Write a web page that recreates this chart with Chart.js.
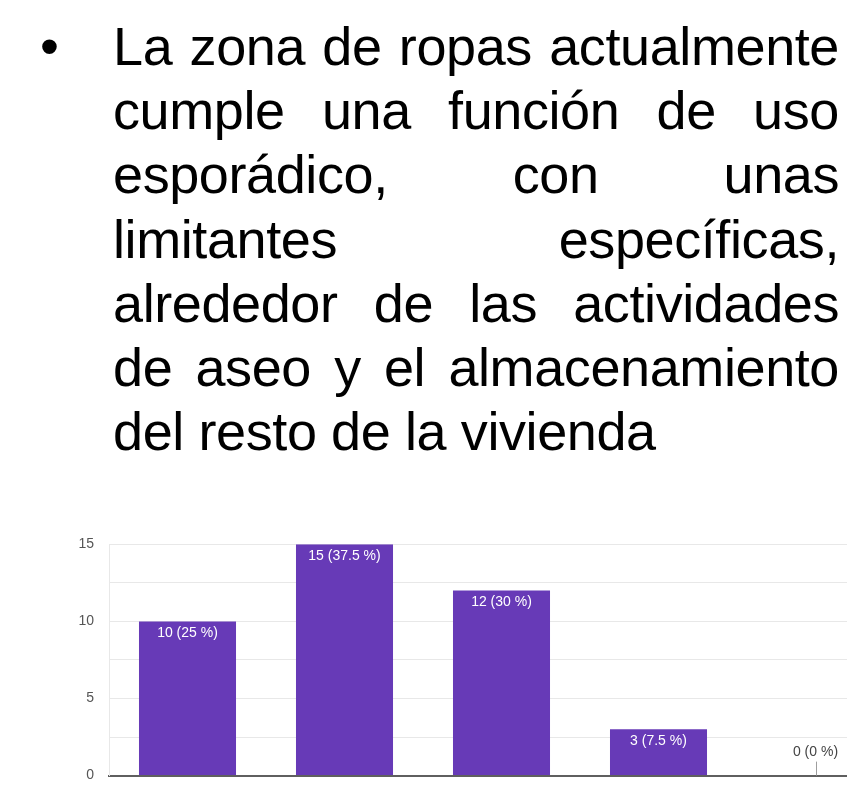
<!DOCTYPE html>
<html>
<head>
<meta charset="utf-8">
<script src="https://cdn.jsdelivr.net/npm/chart.js@4/dist/chart.umd.min.js"></script>
<style>
    html, body {
        margin: 0;
        padding: 0;
        width: 847px;
        height: 788px;
        overflow: hidden;
        background: #ffffff;
    }
    .texto {
        position: absolute;
        left: 113px;
        top: 14px;
        width: 726px;
        font-family: "Liberation Sans", Arial, sans-serif;
        font-size: 54px;
        line-height: 64.2px;
        letter-spacing: -0.4px;
        color: #000;
    }
    .texto .linea {
        text-align: justify;
        text-align-last: justify;
        white-space: nowrap;
    }
    .texto .linea.ultima {
        text-align-last: left;
    }
    .vineta {
        position: absolute;
        left: 40px;
        top: 14px;
        font-family: "Liberation Sans", Arial, sans-serif;
        font-size: 54px;
        line-height: 64.2px;
    }
    #grafico {
        position: absolute;
        left: 0;
        top: 520px;
    }
</style>
</head>
<body>
<div class="vineta">•</div>
<div class="texto">
    <div class="linea">La zona de ropas actualmente</div>
    <div class="linea">cumple una función de uso</div>
    <div class="linea">esporádico, con unas</div>
    <div class="linea">limitantes específicas,</div>
    <div class="linea">alrededor de las actividades</div>
    <div class="linea">de aseo y el almacenamiento</div>
    <div class="linea ultima">del resto de la vivienda</div>
</div>
<canvas id="grafico" width="900" height="279"></canvas>

<script>
// Datos del gráfico
const categorias = ['1', '2', '3', '4', '5'];
const respuestas = [10, 15, 12, 3, 0];
const porcentajes = [25, 37.5, 30, 7.5, 0];
const marcasY = [0, 5, 10, 15];

const colorBarra = '#673ab7';

// Etiquetas de valor sobre las barras
const etiquetasBarras = {
    id: 'etiquetasBarras',
    afterDatasetsDraw(chart) {
        const ctx = chart.ctx;
        const meta = chart.getDatasetMeta(0);
        ctx.save();
        ctx.font = '14px "Liberation Sans", Arial, sans-serif';
        ctx.textAlign = 'center';
        ctx.textBaseline = 'middle';
        meta.data.forEach((barra, i) => {
            const texto = respuestas[i] + ' (' + porcentajes[i] + ' %)';
            if (respuestas[i] > 0) {
                ctx.fillStyle = '#ffffff';
                ctx.fillText(texto, barra.x, barra.y + 11.5);
            } else {
                // barra vacía: texto arriba con una pequeña línea
                ctx.strokeStyle = '#9e9e9e';
                ctx.lineWidth = 1;
                ctx.beginPath();
                ctx.moveTo(Math.round(barra.x) + 0.5, barra.base - 14);
                ctx.lineTo(Math.round(barra.x) + 0.5, barra.base);
                ctx.stroke();
                ctx.fillStyle = '#444444';
                ctx.fillText(texto, barra.x, barra.base - 23.5);
            }
        });
        ctx.restore();
    }
};

const ctx = document.getElementById('grafico').getContext('2d');
new Chart(ctx, {
    type: 'bar',
    data: {
        labels: categorias,
        datasets: [{
            data: respuestas,
            backgroundColor: colorBarra,
            borderWidth: 0,
            barPercentage: 0.618,
            categoryPercentage: 1
        }]
    },
    options: {
        responsive: false,
        animation: false,
        devicePixelRatio: 1,
        layout: {
            padding: { top: 24.3, right: 6, bottom: 11.5, left: 0 }
        },
        plugins: {
            legend: { display: false },
            tooltip: { enabled: false }
        },
        scales: {
            x: {
                ticks: { display: false },
                grid: { display: false },
                border: { display: true, color: '#5f5f5f', width: 2 },
                afterFit(axis) { axis.height = 0; }
            },
            y: {
                min: 0,
                max: 15,
                ticks: {
                    stepSize: 2.5,
                    padding: 15,
                    color: '#555555',
                    font: { family: '"Liberation Sans", Arial, sans-serif', size: 14 },
                    callback: value => marcasY.includes(value) ? value : ''
                },
                grid: {
                    color: '#e8e8e8',
                    lineWidth: 1,
                    drawTicks: false
                },
                border: { display: true, color: '#e8e8e8', width: 1 },
                afterFit(axis) { axis.width = 109; }
            }
        }
    },
    plugins: [etiquetasBarras]
});
</script>
</body>
</html>
